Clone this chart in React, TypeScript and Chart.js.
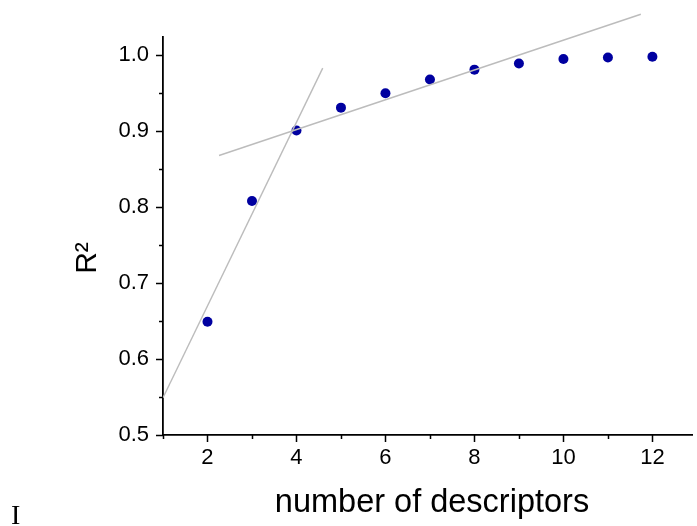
import React, { useEffect, useRef } from "react";
import { Chart, registerables } from "chart.js";

Chart.register(...registerables);

// Data
const descriptorCounts = [2, 3, 4, 5, 6, 7, 8, 9, 10, 11, 12];
const r2Values = [0.649, 0.808, 0.901, 0.931, 0.95, 0.968, 0.981, 0.989, 0.995, 0.997, 0.998];

// Trend lines (endpoints)
const steepLineX = [1.0, 4.59];
const steepLineY = [0.549, 0.983];
const flatLineX = [2.26, 11.74];
const flatLineY = [0.868, 1.054];

// Ticks
const xMajorTicks = [2, 4, 6, 8, 10, 12];
const xMinorTicks = [1, 3, 5, 7, 9, 11];
const yMajorTicks = [0.5, 0.6, 0.7, 0.8, 0.9, 1.0];
const yMinorTicks = [0.55, 0.65, 0.75, 0.85, 0.95];

const xTitle = "number of descriptors";
const yTitle = "R²";

const FONT = "'Liberation Sans', Arial, sans-serif";

const tickPlugin = {
  id: "customTicks",
  afterDraw(chart: any) {
    const ctx = chart.ctx;
    const xs = chart.scales.x;
    const ys = chart.scales.y;
    const area = chart.chartArea;
    ctx.save();
    ctx.strokeStyle = "#000";
    ctx.lineWidth = 1.5;
    ctx.beginPath();
    for (const v of xMajorTicks) {
      const px = Math.round(xs.getPixelForValue(v)) + 0.5;
      ctx.moveTo(px, area.bottom);
      ctx.lineTo(px, area.bottom + 7);
    }
    for (const v of xMinorTicks) {
      const px = Math.round(xs.getPixelForValue(v)) + 0.5;
      ctx.moveTo(px, area.bottom);
      ctx.lineTo(px, area.bottom + 4);
    }
    for (const v of yMajorTicks) {
      const py = Math.round(ys.getPixelForValue(v)) + 0.5;
      ctx.moveTo(area.left, py);
      ctx.lineTo(area.left - 7, py);
    }
    for (const v of yMinorTicks) {
      const py = Math.round(ys.getPixelForValue(v)) + 0.5;
      ctx.moveTo(area.left, py);
      ctx.lineTo(area.left - 4, py);
    }
    ctx.stroke();

    ctx.fillStyle = "#000";
    ctx.font = `32.5px ${FONT}`;
    ctx.textAlign = "center";
    ctx.textBaseline = "alphabetic";
    ctx.fillText(xTitle, 432, 512);

    ctx.translate(96, 258);
    ctx.rotate(-Math.PI / 2);
    ctx.font = `30px ${FONT}`;
    ctx.fillText(yTitle, 0, 0);
    ctx.restore();
  },
};

export default function App() {
  const canvasRef = useRef<HTMLCanvasElement | null>(null);

  useEffect(() => {
    if (!canvasRef.current) return;
    const chart = new Chart(canvasRef.current, {
      type: "scatter",
      data: {
        datasets: [
          {
            data: steepLineX.map((x, i) => ({ x, y: steepLineY[i] })),
            showLine: true,
            borderColor: "#bcbcbc",
            borderWidth: 1.4,
            pointRadius: 0,
            clip: false as any,
            order: 0,
          },
          {
            data: flatLineX.map((x, i) => ({ x, y: flatLineY[i] })),
            showLine: true,
            borderColor: "#bcbcbc",
            borderWidth: 1.4,
            pointRadius: 0,
            clip: false as any,
            order: 1,
          },
          {
            data: descriptorCounts.map((x, i) => ({ x, y: r2Values[i] })),
            showLine: false,
            pointRadius: 5,
            pointBackgroundColor: "#0000a0",
            pointBorderColor: "#0000a0",
            pointBorderWidth: 0,
            order: 2,
          },
        ],
      },
      options: {
        animation: false,
        responsive: true,
        maintainAspectRatio: false,
        layout: { padding: { left: 0, top: 37, right: 0, bottom: 0 } },
        plugins: {
          legend: { display: false },
          tooltip: { enabled: false },
        },
        scales: {
          x: {
            type: "linear",
            min: 1,
            max: 12.89,
            afterBuildTicks: (scale: any) => {
              scale.ticks = xMajorTicks.map((v) => ({ value: v }));
            },
            afterFit: (scale: any) => {
              scale.height = 91;
            },
            grid: { display: false, drawTicks: false },
            border: { display: true, color: "#000", width: 1.8 },
            ticks: {
              color: "#000",
              font: { family: FONT, size: 22 },
              padding: 10,
              maxRotation: 0,
              autoSkip: false,
              callback: (v: any) => String(v),
            },
          },
          y: {
            type: "linear",
            min: 0.5,
            max: 1.024,
            afterBuildTicks: (scale: any) => {
              scale.ticks = yMajorTicks.map((v) => ({ value: v }));
            },
            afterFit: (scale: any) => {
              scale.width = 163;
            },
            grid: { display: false, drawTicks: false },
            border: { display: true, color: "#000", width: 1.8 },
            ticks: {
              color: "#000",
              font: { family: FONT, size: 22 },
              padding: 14,
              autoSkip: false,
              callback: (v: any) => Number(v).toFixed(1),
            },
          },
        },
      },
      plugins: [tickPlugin],
    });
    return () => chart.destroy();
  }, []);

  return (
    <div
      style={{
        position: "fixed",
        left: 0,
        top: 0,
        width: 697,
        height: 526,
        background: "#fff",
        overflow: "hidden",
      }}
    >
      <canvas ref={canvasRef} />
      <span
        style={{
          position: "absolute",
          left: 11,
          top: 501,
          fontFamily: "'Liberation Serif', 'Times New Roman', serif",
          fontSize: 28,
          lineHeight: "28px",
          color: "#000",
        }}
      >
        I
      </span>
    </div>
  );
}
